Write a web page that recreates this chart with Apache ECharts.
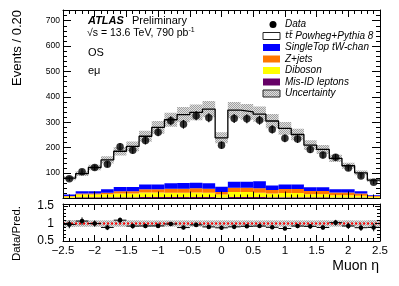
<!DOCTYPE html>
<html><head><meta charset="utf-8">
<script src="https://cdn.jsdelivr.net/npm/echarts@6/dist/echarts.min.js"></script>
<style>html,body{margin:0;padding:0;background:#fff}#c{width:399px;height:286px}</style>
</head><body><div id="c"></div>
<script>
// ---- data ----
const binEdges = [-2.5,-2.3,-2.1,-1.9,-1.7,-1.5,-1.3,-1.1,-0.9,-0.7,-0.5,-0.3,-0.1,0.1,0.3,0.5,0.7,0.9,1.1,1.3,1.5,1.7,1.9,2.1,2.3,2.5];
const dataCounts = [78,105,122,135,204,190,228,261,306,292,326,318,210,315,314,308,272,237,234,193,171,162,120,89,64];
const ttbar     = [64,69,93,116,141,160,190,225,250,269,277,292,193,282,275,264,254,221,197,166,149,122,93,72,59];
const singleTop = [6,9,9,13,16,16,19,19,22,23,22,22,20,24,24,28,18,18,18,14,14,12,12,9,3];
const zjets     = [2,4,4,6,9,9,12,12,15,15,16,15,10,16,16,17,13,15,15,13,13,11,11,9,3];
const diboson   = [5,11,11,12,15,15,18,18,17,17,18,17,12,20,20,17,15,17,17,12,12,9,9,7,4];
const misID     = [3,5,5,5,5,5,6,6,6,6,6,6,4,6,6,6,5,5,5,5,5,4,4,4,3];
const uncert    = [8,9,11,14,17,19,22,25,28,30,31,32,22,32,31,30,28,25,23,19,18,14,12,9,7];
const xTicks = [-2.5,-2,-1.5,-1,-0.5,0,0.5,1,1.5,2,2.5];
const yTicksMain = [100,200,300,400,500,600,700];
const yTicksRatio = [0.5,1,1.5];
const legendLabels = ['Data','{tb|t\u0074\u0304} Powheg+Pythia 8','SingleTop tW-chan','Z+jets','Diboson','Mis-ID leptons','Uncertainty'];

// ---- styles ----
const FONT = 'Liberation Sans';
const colBlue='#0000ff', colOrange='#ff7700', colYellow='#ffff00', colPurple='#660066';

const pc = document.createElement('canvas'); pc.width=2; pc.height=2;
const g = pc.getContext('2d');
g.fillStyle='#e0e0e0'; g.fillRect(0,0,2,2);
g.fillStyle='#a0a0a0'; g.fillRect(0,0,1,1); g.fillRect(1,1,1,1);
const hatch = {image: pc, repeat: 'repeat'};

// ---- derived stacks ----
const n = dataCounts.length;
const cum = [misID.slice()];
[diboson, zjets, singleTop, ttbar].forEach(a => { const prev = cum[cum.length-1]; cum.push(prev.map((v,i)=>v+a[i])); });
const total = cum[4];

function rectSeries(name, lows, highs, xi, yi, fill, z, stroke) {
  const d = [];
  for (let i=0;i<n;i++) d.push([binEdges[i], binEdges[i+1], lows[i], highs[i]]);
  return {
    type:'custom', name, xAxisIndex:xi, yAxisIndex:yi, z, clip:true,
    encode:{x:[0,1], y:[2,3]}, data:d,
    renderItem:(p, api) => {
      const a = api.coord([api.value(0), api.value(2)]);
      const b = api.coord([api.value(1), api.value(3)]);
      return {type:'rect', shape:{x:a[0], y:b[1], width:b[0]-a[0], height:a[1]-b[1]},
              style:{fill, stroke: stroke||null, lineWidth: stroke?1:0}};
    }
  };
}
const zeros = new Array(n).fill(0);
const series = [];
series.push(rectSeries('Mis-ID leptons', zeros, cum[0], 0,0, colPurple, 2));
series.push(rectSeries('Diboson', cum[0], cum[1], 0,0, colYellow, 2));
series.push(rectSeries('Z+jets', cum[1], cum[2], 0,0, colOrange, 2));
series.push(rectSeries('SingleTop', cum[2], cum[3], 0,0, colBlue, 2));
series.push(rectSeries('Uncertainty', total.map((v,i)=>v-uncert[i]), total.map((v,i)=>v+uncert[i]), 0,0, hatch, 3));
// step outline of total prediction
const stepData = binEdges.slice(0,n).map((e,i)=>[e,total[i]]); stepData.push([binEdges[n], total[n-1]]);
series.push({type:'line', xAxisIndex:0, yAxisIndex:0, step:'end', data:stepData, symbol:'none',
  lineStyle:{color:'#000', width:1.3}, z:4, silent:true});
// data error bars + points
const centers = binEdges.slice(0,n).map((e,i)=>(e+binEdges[i+1])/2);
series.push({type:'custom', xAxisIndex:0, yAxisIndex:0, z:5,
  data: centers.map((c,i)=>[c, dataCounts[i]-Math.sqrt(dataCounts[i]), dataCounts[i]+Math.sqrt(dataCounts[i])]),
  encode:{x:0, y:[1,2]},
  renderItem:(p, api)=>{ const a=api.coord([api.value(0),api.value(1)]), b=api.coord([api.value(0),api.value(2)]);
    return {type:'line', shape:{x1:a[0],y1:a[1],x2:b[0],y2:b[1]}, style:{stroke:'#000', lineWidth:1.2}}; }});
series.push({type:'scatter', xAxisIndex:0, yAxisIndex:0, z:6, symbol:'circle', symbolSize:7.5,
  itemStyle:{color:'#000'}, data: centers.map((c,i)=>[c, dataCounts[i]])});

// ratio panel
const ratio = dataCounts.map((d,i)=>d/total[i]);
const ratioErr = dataCounts.map((d,i)=>Math.sqrt(d)/total[i]);
series.push(rectSeries('Ratio unc', total.map((v,i)=>1-uncert[i]/v), total.map((v,i)=>1+uncert[i]/v), 2,2, hatch, 3));
series.push({type:'line', xAxisIndex:2, yAxisIndex:2, data:[[-2.5,1],[2.5,1]], symbol:'none', z:4,
  lineStyle:{color:'#ff0000', width:2, type:[2,2]}});
series.push({type:'custom', xAxisIndex:2, yAxisIndex:2, z:5, clip:true,
  data: centers.map((c,i)=>[c, ratio[i], ratio[i]-ratioErr[i], ratio[i]+ratioErr[i], binEdges[i], binEdges[i+1]]),
  encode:{x:[0,4,5], y:[1,2,3]},
  renderItem:(p, api)=>{
    const c=api.coord([api.value(0),api.value(1)]);
    const lo=api.coord([api.value(0),api.value(2)]), hi=api.coord([api.value(0),api.value(3)]);
    const l=api.coord([api.value(4),api.value(1)]), r=api.coord([api.value(5),api.value(1)]);
    return {type:'group', children:[
      {type:'line', shape:{x1:lo[0],y1:lo[1],x2:hi[0],y2:hi[1]}, style:{stroke:'#000',lineWidth:1}},
      {type:'line', shape:{x1:l[0],y1:l[1],x2:r[0],y2:r[1]}, style:{stroke:'#000',lineWidth:1}},
      {type:'circle', shape:{cx:c[0],cy:c[1],r:2.3}, style:{fill:'#000'}}
    ]};
  }});

// ---- axes ----
const axLine = {show:true, onZero:false, lineStyle:{color:'#000', width:1}};
function xAx(gi, pos, labels, tl, ml) {
  return {gridIndex:gi, type:'value', position:pos, min:-2.5, max:2.5, interval:0.5, z:10,
    axisLine:axLine, splitLine:{show:false},
    axisTick:{show:true, inside:true, length:tl, lineStyle:{color:'#000'}},
    minorTick:{show:true, splitNumber:5, length:ml, lineStyle:{color:'#000'}},
    axisLabel:{show:labels, color:'#000', fontFamily:FONT, fontSize:11.5, margin:4,
      formatter:v=>{ const k = xTicks.find(t=>Math.abs(t-v)<1e-6); if(k===undefined) return ''; return k<0 ? '\u2212'+Math.abs(k) : String(k); }}};
}
function yAx(gi, pos, labels, min, max, interval, ticks, fs, margin, tl, ml) {
  return {gridIndex:gi, type:'value', position:pos, min, max, interval, z:10,
    axisLine:axLine, splitLine:{show:false},
    axisTick:{show:true, inside:true, length:tl, lineStyle:{color:'#000'}},
    minorTick:{show:true, splitNumber:5, length:ml, lineStyle:{color:'#000'}},
    axisLabel:{show:labels, color:'#000', fontFamily:FONT, fontSize:fs, margin,
      formatter:v=>{ const k = ticks.find(t=>Math.abs(t-v)<1e-6); return k===undefined ? '' : String(k); }}};
}

// ---- texts / legend ----
const graphic = [];
function txt(x,y,text,opt){ graphic.push(Object.assign({type:'text', x, y, z:20, style:Object.assign({text, fill:'#000', font:'11px '+FONT, textVerticalAlign:'middle'}, opt||{})})); }
graphic.push({type:'text', x:17, y:10, rotation:Math.PI/2, z:20, style:{text:'Events / 0.20', fill:'#000', font:'13px '+FONT, textAlign:'right', textVerticalAlign:'middle'}});
graphic.push({type:'text', x:17, y:206, rotation:Math.PI/2, z:20, style:{text:'Data/Pred.', fill:'#000', font:'11.5px '+FONT, textAlign:'right', textVerticalAlign:'middle'}});
graphic.push({type:'text', x:379, y:266, z:20, style:{text:'Muon \u03b7', fill:'#000', font:'14px '+FONT, textAlign:'right', textVerticalAlign:'middle'}});
txt(88,21,'ATLAS',{font:'italic bold 11px '+FONT});
txt(132,21,'Preliminary',{font:'11px '+FONT});
graphic.push({type:'text', x:87, y:33.5, z:20, style:{text:'\u221as = 13.6 TeV, 790 pb{s|-1}', fill:'#000', font:'10.5px '+FONT, textVerticalAlign:'middle',
  rich:{s:{fontSize:7, fontFamily:FONT, padding:[0,0,6,0], fill:'#000'}}}});
txt(88,53,'OS');
txt(88,71,'e\u03bc');

const legY0 = 24.5, legDy = 11.5, boxX = 263, boxW = 17, boxH = 7, textX = 285;
const legFills = [null, '#ffffff', colBlue, colOrange, colYellow, colPurple, hatch];
legendLabels.forEach((lab,i)=>{
  const y = legY0 + i*legDy;
  if (i===0) graphic.push({type:'circle', z:20, shape:{cx:273, cy:y, r:3.5}, style:{fill:'#000'}});
  else graphic.push({type:'rect', z:20, shape:{x:boxX, y:y-boxH/2, width:boxW, height:boxH},
        style:{fill:legFills[i], stroke:(i===1||i===6)?'#222':null, lineWidth:(i===1||i===6)?1:0}});
  txt(textX, y, lab, {font:'italic 10px '+FONT,
    rich:{tb:{fontFamily:'DejaVu Sans', fontStyle:'italic', fontSize:9.5, fill:'#000'}}});
});

const option = {
  animation:false,
  backgroundColor:'#fff',
  grid:[{left:63, top:10, width:317, height:188.5},{left:63, top:204, width:317, height:37}],
  xAxis:[ xAx(0,'bottom',false,7,4), xAx(0,'top',false,7,4), xAx(1,'bottom',true,6,3), xAx(1,'top',false,6,3) ],
  yAxis:[ yAx(0,'left',true,0,742,100,yTicksMain,8.5,3,8,4), yAx(0,'right',false,0,742,100,yTicksMain,8.5,3,8,4),
          yAx(1,'left',true,0.5,1.56,0.5,yTicksRatio,12,9,5,3), yAx(1,'right',false,0.5,1.56,0.5,yTicksRatio,12,9,5,3) ],
  series, graphic
};
const chart = echarts.init(document.getElementById('c'), null, {renderer:'canvas'});
chart.setOption(option);
</script></body></html>
